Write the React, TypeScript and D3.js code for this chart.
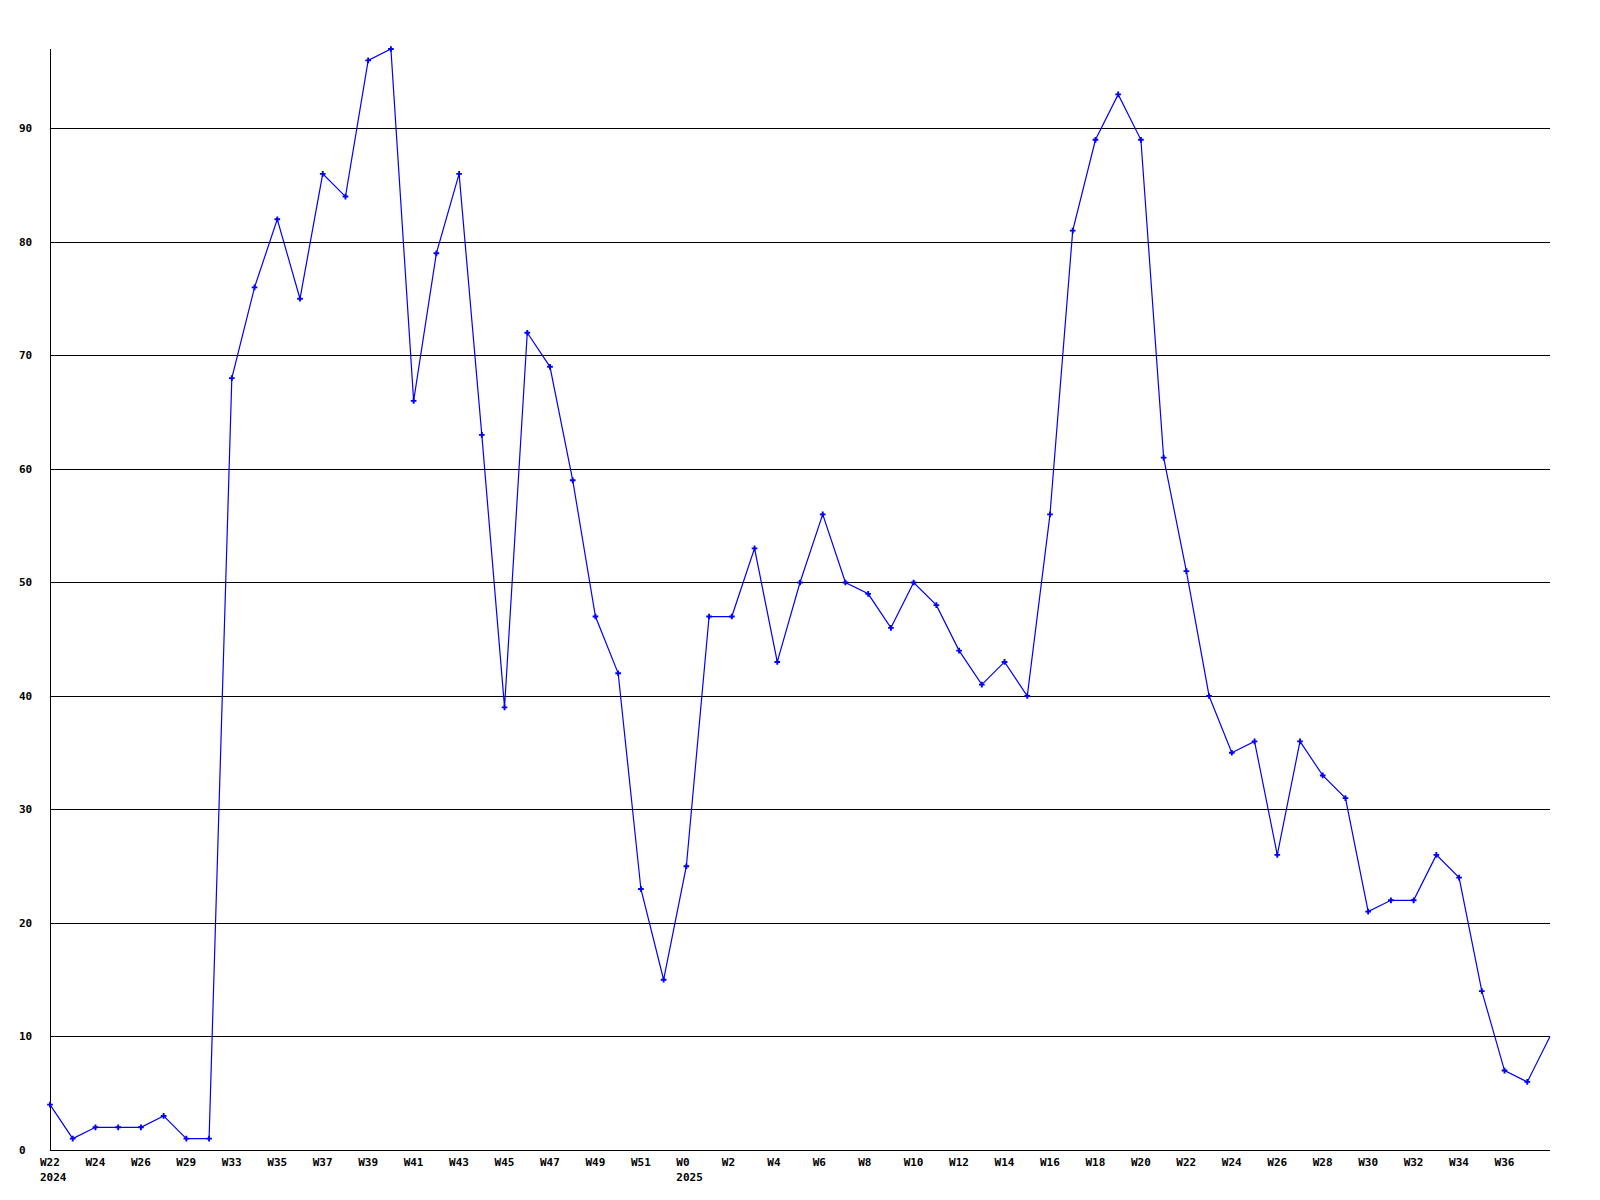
import React from "react";
import * as d3 from "d3";

// weeks shown on the x axis (only every second one gets a label)
const weeks = [
  "W22", "W23", "W24", "W25", "W26", "W27", "W29", "W31",
  "W33", "W34", "W35", "W36", "W37", "W38", "W39", "W40", "W41", "W42",
  "W43", "W44", "W45", "W46", "W47", "W48", "W49", "W50", "W51", "W52",
  "W0", "W1", "W2", "W3", "W4", "W5", "W6", "W7", "W8", "W9", "W10",
  "W11", "W12", "W13", "W14", "W15", "W16", "W17", "W18", "W19", "W20",
  "W21", "W22", "W23", "W24", "W25", "W26", "W27", "W28", "W29", "W30",
  "W31", "W32", "W33", "W34", "W35", "W36", "W37", "W38",
];

const counts = [
  4, 1, 2, 2, 2, 3, 1, 1,
  68, 76, 82, 75, 86, 84, 96, 97, 66, 79,
  86, 63, 39, 72, 69, 59, 47, 42, 23, 15,
  25, 47, 47, 53, 43, 50, 56, 50, 49, 46, 50,
  48, 44, 41, 43, 40, 56, 81, 89, 93, 89,
  61, 51, 40, 35, 36, 26, 36, 33, 31, 21,
  22, 22, 26, 24, 14, 7, 6, 10,
];

// year captions under the first week of each year
const years = [
  { index: 0, label: "2024" },
  { index: 28, label: "2025" },
];

const yTicks = [0, 10, 20, 30, 40, 50, 60, 70, 80, 90];

const W = 1600;
const H = 1200;
const left = 50;
const right = 1550;
const top = 49;
const bottom = 1150;
const font = "'DejaVu Sans Mono', monospace";

export default function App() {
  const x = d3.scaleLinear().domain([0, weeks.length - 1]).range([left, right]);
  const y = d3.scaleLinear().domain([0, d3.max(counts) as number]).range([bottom, top]);

  const line = d3
    .line<number>()
    .x((_, i) => x(i))
    .y((d) => y(d));

  const marker = d3.symbol().type(d3.symbolCross).size(18)();

  return (
    <>
      <style>{"body{margin:0}"}</style>
      <svg width={W} height={H} style={{ display: "block", background: "#fff" }}>
        {/* horizontal grid */}
        <g shapeRendering="crispEdges">
          {yTicks.map((t) => (
            <line
              key={t}
              x1={left}
              x2={right}
              y1={Math.round(y(t)) + 0.5}
              y2={Math.round(y(t)) + 0.5}
              stroke="#000"
            />
          ))}
          <line x1={left + 0.5} x2={left + 0.5} y1={top} y2={bottom} stroke="#000" />
        </g>

        {/* y labels */}
        <g fontFamily={font} fontWeight="bold" fontSize={11} fill="#000">
          {yTicks.map((t) => (
            <text key={t} x={19} y={y(t)} dy="0.35em">
              {t}
            </text>
          ))}
        </g>

        {/* x labels, the last week has none */}
        <g fontFamily={font} fontWeight="bold" fontSize={11} fill="#000">
          {weeks.map((w, i) =>
            i % 2 === 0 && i < weeks.length - 1 ? (
              <text key={i} x={x(i) - 10} y={1166}>
                {w}
              </text>
            ) : null
          )}
          {years.map((yr) => (
            <text key={yr.label} x={x(yr.index) - 10} y={1181}>
              {yr.label}
            </text>
          ))}
        </g>

        {/* series */}
        <path d={line(counts) || ""} fill="none" stroke="#0000ff" strokeWidth={1.2} />
        <g fill="#0000ff">
          {counts.slice(0, -1).map((c, i) => (
            <path key={i} d={marker || ""} transform={`translate(${x(i)},${y(c)})`} />
          ))}
        </g>
      </svg>
    </>
  );
}
